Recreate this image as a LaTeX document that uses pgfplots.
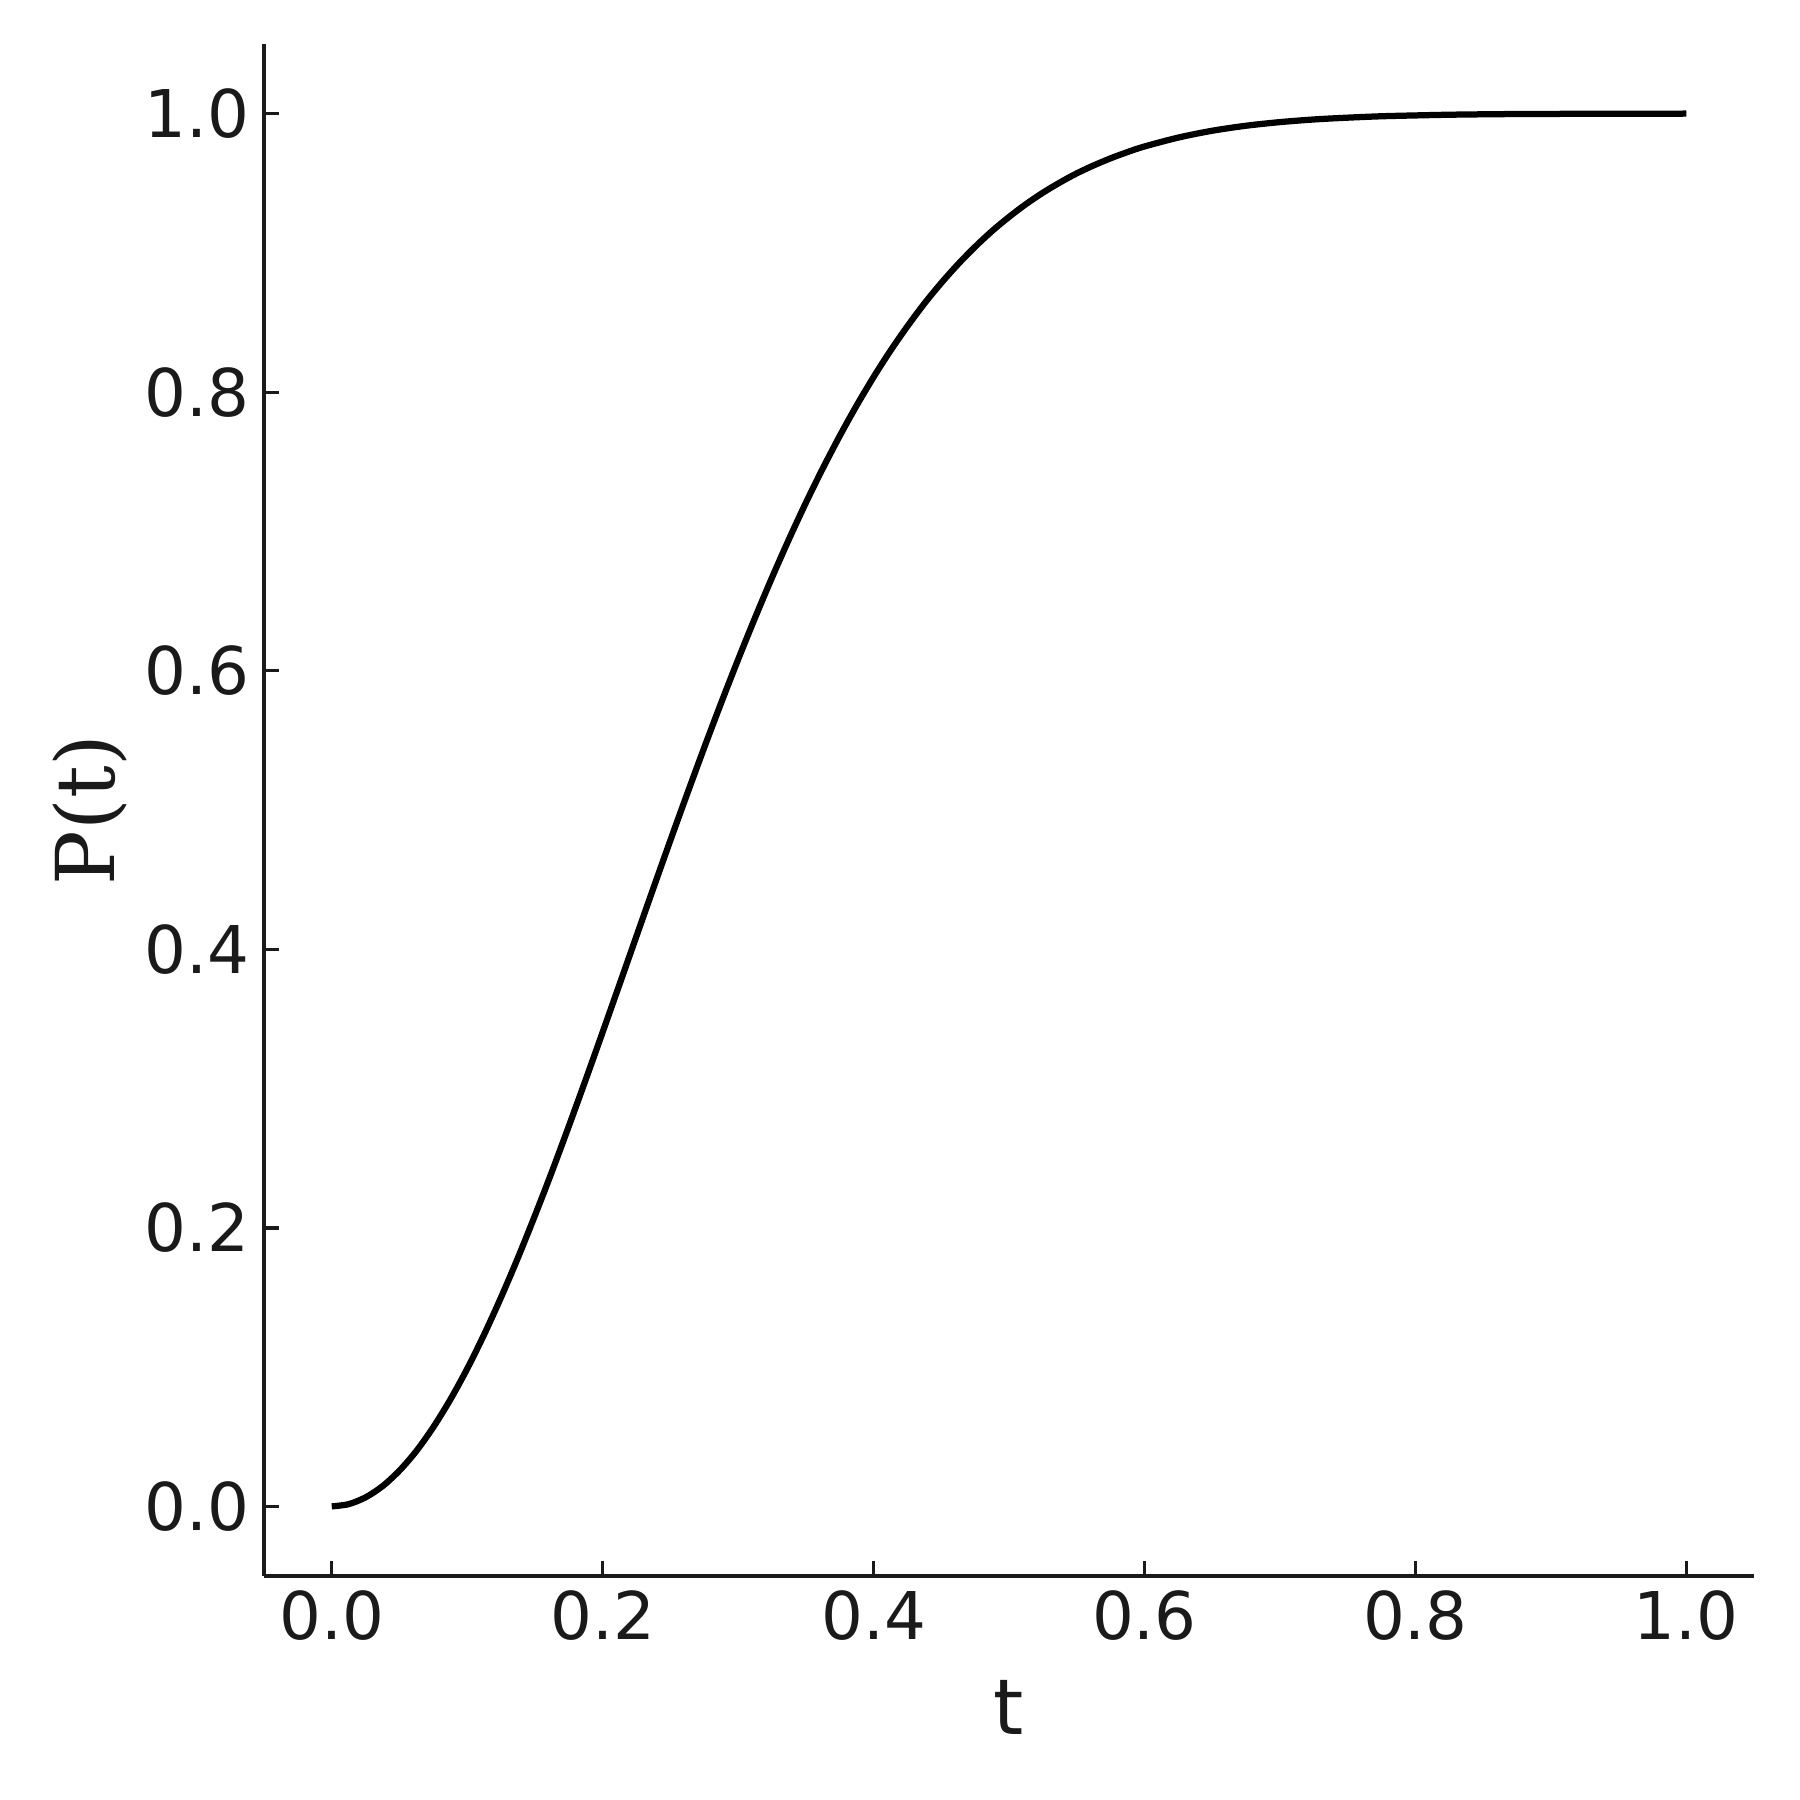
\documentclass[border=0pt]{standalone}
\usepackage{fontspec}
\setmainfont{DejaVu Sans}
\newfontfamily\labelserif{DejaVu Serif}
\usepackage{pgfplots}
\pgfplotsset{compat=1.18}
\definecolor{ink}{HTML}{1A1A1A}

\begin{document}
\begin{tikzpicture}
\begin{axis}[
  scale only axis,
  width=357.6pt, height=367.7pt,
  xmin=-0.05, xmax=1.05, ymin=-0.05, ymax=1.05,
  axis lines*=left,
  axis line style={ink, line width=0.8pt, -},
  tick align=inside,
  major tick length=3.5pt,
  every tick/.style={ink, line width=0.8pt},
  xtick={0,0.2,0.4,0.6,0.8,1},
  ytick={0,0.2,0.4,0.6,0.8,1},
  ticklabel style={font=\fontsize{15.8}{19}\selectfont, text=ink},
  xticklabel style={/pgf/number format/fixed, /pgf/number format/fixed zerofill,
    /pgf/number format/precision=1, /pgf/number format/assume math mode=true},
  yticklabel style={/pgf/number format/fixed, /pgf/number format/fixed zerofill,
    /pgf/number format/precision=1, /pgf/number format/assume math mode=true},
  xlabel={t},
  ylabel={{\labelserif P(t)}},
  label style={text=ink},
  xlabel style={font=\fontsize{18.5}{22}\selectfont, yshift=-2.7pt},
  ylabel style={font=\fontsize{19.5}{23}\selectfont, yshift=-2.6pt},
  clip=false,
]
\addplot[black, line width=1.5pt, smooth] table {
t P
0.0000 0.0000
0.0125 0.0016
0.0250 0.0065
0.0375 0.0145
0.0500 0.0257
0.0625 0.0398
0.0750 0.0569
0.0875 0.0766
0.1000 0.0988
0.1125 0.1234
0.1250 0.1501
0.1375 0.1786
0.1500 0.2088
0.1625 0.2402
0.1750 0.2729
0.1875 0.3064
0.2000 0.3405
0.2125 0.3749
0.2250 0.4095
0.2375 0.4440
0.2500 0.4782
0.2625 0.5118
0.2750 0.5448
0.2875 0.5769
0.3000 0.6080
0.3125 0.6380
0.3250 0.6668
0.3375 0.6943
0.3500 0.7205
0.3625 0.7452
0.3750 0.7685
0.3875 0.7904
0.4000 0.8108
0.4125 0.8298
0.4250 0.8473
0.4375 0.8636
0.4500 0.8784
0.4625 0.8920
0.4750 0.9044
0.4875 0.9157
0.5000 0.9258
0.5125 0.9350
0.5250 0.9432
0.5375 0.9505
0.5500 0.9571
0.5625 0.9628
0.5750 0.9679
0.5875 0.9724
0.6000 0.9764
0.6250 0.9828
0.6500 0.9877
0.6750 0.9913
0.7000 0.9939
0.7250 0.9958
0.7500 0.9971
0.7750 0.9981
0.8000 0.9987
0.8250 0.9992
0.8500 0.9995
0.8750 0.9997
0.9000 0.9998
0.9500 0.9999
1.0000 1.0000
};
% page frame matching the reference margins
\path (rel axis cs:-0.1772,-0.1462) rectangle (rel axis cs:1.0309,1.0287);
\end{axis}
\end{tikzpicture}
\end{document}
